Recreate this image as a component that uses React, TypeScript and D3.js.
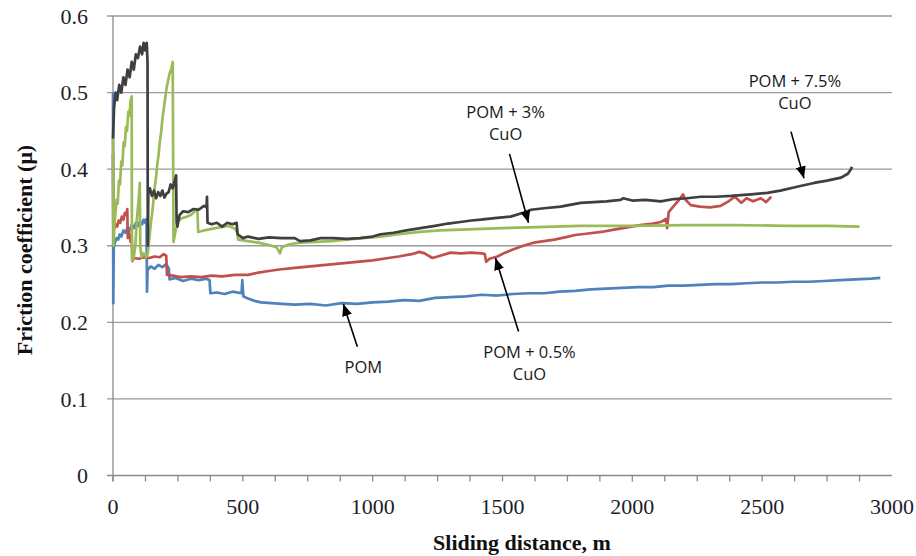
import React from "react";
import * as d3 from "d3";

const W = 916;
const H = 556;

// axis ticks
const yTicks = [0, 0.1, 0.2, 0.3, 0.4, 0.5, 0.6];
const xLabels = [0, 500, 1000, 1500, 2000, 2500, 3000];
const xMinorTicks = d3.range(0, 2876, 125);

// series, [sliding distance m, friction coefficient]
const pom: [number, number][] = [
  [0, 0.5], [1, 0.225], [3, 0.298], [8, 0.305], [14, 0.31], [20, 0.308], [26, 0.315], [32, 0.312],
  [40, 0.32], [48, 0.317], [56, 0.324], [64, 0.32], [72, 0.327], [80, 0.323], [88, 0.33], [96, 0.326],
  [104, 0.332], [112, 0.328], [118, 0.334], [124, 0.33], [129, 0.335], [131, 0.24], [133, 0.268],
  [145, 0.273], [160, 0.27], [175, 0.275], [190, 0.272], [205, 0.276], [215, 0.27], [218, 0.256],
  [240, 0.258], [270, 0.254], [300, 0.257], [330, 0.255], [360, 0.257], [372, 0.255], [375, 0.238],
  [400, 0.239], [430, 0.237], [460, 0.24], [495, 0.238], [498, 0.255], [502, 0.234], [520, 0.231],
  [545, 0.228], [570, 0.226], [610, 0.225], [650, 0.224], [700, 0.223], [760, 0.224], [820, 0.222],
  [880, 0.225], [940, 0.224], [1000, 0.226], [1060, 0.227], [1120, 0.229], [1180, 0.228], [1240, 0.232],
  [1300, 0.233], [1360, 0.234], [1420, 0.236], [1480, 0.235], [1540, 0.237], [1600, 0.238], [1660, 0.238],
  [1720, 0.24], [1780, 0.241], [1840, 0.243], [1900, 0.244], [1960, 0.245], [2020, 0.246], [2080, 0.246],
  [2140, 0.248], [2200, 0.248], [2260, 0.249], [2320, 0.25], [2380, 0.25], [2440, 0.251], [2500, 0.252],
  [2560, 0.252], [2620, 0.253], [2680, 0.253], [2740, 0.254], [2800, 0.255], [2860, 0.256], [2920, 0.257],
  [2955, 0.258],
];

const pom05: [number, number][] = [
  [0, 0.42], [1, 0.33], [4, 0.322], [10, 0.328], [16, 0.325], [22, 0.333], [28, 0.33], [34, 0.338],
  [40, 0.334], [46, 0.343], [52, 0.34], [55, 0.348], [57, 0.31], [62, 0.318], [68, 0.305], [72, 0.312],
  [75, 0.28], [80, 0.284], [100, 0.283], [120, 0.285], [140, 0.284], [160, 0.286], [180, 0.285],
  [195, 0.289], [205, 0.287], [208, 0.262], [230, 0.261], [260, 0.259], [300, 0.26], [340, 0.259],
  [380, 0.261], [420, 0.26], [470, 0.262], [520, 0.262], [560, 0.265], [600, 0.267], [640, 0.269],
  [700, 0.271], [760, 0.273], [820, 0.275], [880, 0.277], [940, 0.279], [1000, 0.281], [1060, 0.284],
  [1100, 0.286], [1150, 0.289], [1180, 0.292], [1200, 0.29], [1230, 0.284], [1260, 0.287], [1300, 0.291],
  [1340, 0.29], [1380, 0.291], [1420, 0.29], [1432, 0.289], [1437, 0.279], [1450, 0.283], [1480, 0.286],
  [1510, 0.291], [1540, 0.295], [1580, 0.3], [1620, 0.304], [1660, 0.306], [1700, 0.308], [1740, 0.311],
  [1780, 0.314], [1830, 0.316], [1880, 0.318], [1930, 0.321], [1980, 0.324], [2030, 0.327], [2080, 0.329],
  [2110, 0.331], [2130, 0.335], [2134, 0.323], [2140, 0.344], [2160, 0.352], [2180, 0.36], [2195, 0.367],
  [2205, 0.36], [2225, 0.353], [2260, 0.351], [2300, 0.35], [2340, 0.352], [2370, 0.358], [2395, 0.364],
  [2420, 0.356], [2440, 0.362], [2465, 0.358], [2495, 0.362], [2515, 0.357], [2535, 0.364],
];

const pom3: [number, number][] = [
  [0, 0.44], [2, 0.3], [6, 0.33], [10, 0.345], [14, 0.36], [18, 0.355], [23, 0.385], [27, 0.38],
  [32, 0.41], [36, 0.405], [41, 0.435], [45, 0.43], [50, 0.455], [54, 0.45], [59, 0.475], [63, 0.47],
  [68, 0.49], [72, 0.495], [73, 0.28], [80, 0.285], [86, 0.3], [92, 0.335], [96, 0.35], [100, 0.365],
  [103, 0.382], [105, 0.3], [110, 0.285], [118, 0.29], [128, 0.285], [134, 0.29], [140, 0.31],
  [146, 0.33], [150, 0.34], [156, 0.36], [160, 0.375], [166, 0.39], [170, 0.405], [176, 0.42],
  [180, 0.435], [186, 0.45], [190, 0.465], [196, 0.48], [200, 0.49], [206, 0.505], [212, 0.515],
  [218, 0.525], [224, 0.53], [230, 0.54], [233, 0.305], [240, 0.318], [250, 0.332], [265, 0.336],
  [285, 0.338], [300, 0.34], [315, 0.345], [325, 0.348], [328, 0.318], [350, 0.32], [380, 0.322],
  [410, 0.324], [445, 0.326], [470, 0.322], [478, 0.318], [482, 0.308], [520, 0.306], [560, 0.304],
  [600, 0.301], [630, 0.298], [643, 0.29], [650, 0.298], [680, 0.302], [720, 0.304], [780, 0.305],
  [840, 0.306], [900, 0.308], [960, 0.31], [1030, 0.312], [1100, 0.315], [1180, 0.318], [1260, 0.32],
  [1340, 0.321], [1420, 0.322], [1500, 0.323], [1600, 0.324], [1700, 0.325], [1800, 0.326], [2000, 0.326],
  [2200, 0.327], [2400, 0.327], [2600, 0.326], [2750, 0.326], [2875, 0.325],
];

const pom75: [number, number][] = [
  [0, 0.44], [4, 0.48], [10, 0.5], [16, 0.49], [24, 0.51], [32, 0.5], [40, 0.52], [48, 0.51],
  [56, 0.53], [64, 0.52], [72, 0.54], [80, 0.53], [88, 0.55], [96, 0.545], [104, 0.56], [112, 0.55],
  [118, 0.565], [124, 0.555], [130, 0.565], [133, 0.54], [134, 0.3], [136, 0.37], [142, 0.375],
  [150, 0.365], [158, 0.372], [166, 0.362], [174, 0.37], [182, 0.365], [190, 0.372], [198, 0.363],
  [206, 0.368], [214, 0.37], [222, 0.38], [230, 0.375], [238, 0.385], [243, 0.392], [245, 0.33],
  [248, 0.325], [256, 0.34], [270, 0.345], [290, 0.344], [310, 0.348], [330, 0.347], [350, 0.352],
  [360, 0.35], [362, 0.364], [364, 0.33], [380, 0.328], [400, 0.33], [420, 0.325], [440, 0.33],
  [460, 0.328], [476, 0.33], [480, 0.315], [500, 0.31], [520, 0.312], [560, 0.309], [600, 0.311],
  [650, 0.31], [700, 0.31], [720, 0.306], [760, 0.307], [800, 0.31], [850, 0.31], [900, 0.309],
  [950, 0.31], [1000, 0.312], [1030, 0.315], [1080, 0.317], [1130, 0.32], [1184, 0.323], [1240, 0.326],
  [1290, 0.329], [1338, 0.331], [1380, 0.333], [1416, 0.334], [1470, 0.336], [1531, 0.338], [1580, 0.343],
  [1610, 0.347], [1660, 0.349], [1724, 0.351], [1770, 0.354], [1801, 0.356], [1850, 0.357], [1900, 0.358],
  [1955, 0.36], [1965, 0.362], [2000, 0.359], [2050, 0.36], [2110, 0.358], [2160, 0.361], [2210, 0.362],
  [2264, 0.364], [2320, 0.364], [2380, 0.365], [2457, 0.367], [2520, 0.369], [2570, 0.372], [2622, 0.376],
  [2660, 0.379], [2700, 0.382], [2750, 0.385], [2804, 0.389], [2830, 0.394], [2842, 0.4], [2846, 0.403],
];

const seriesData = [pom, pom05, pom3, pom75];
const seriesColors = ["#4F81BD", "#C0504D", "#9BBB59", "#3F3F3F"];

// annotation labels (centre of first line) and arrows (tail -> head), in data units
const noteLines = [["POM"], ["POM + 0.5%", "CuO"], ["POM + 3%", "CuO"], ["POM + 7.5%", "CuO"]];
const noteAt: [number, number][] = [[964, 0.142], [1604, 0.161], [1512, 0.474], [2626, 0.515]];
const arrowFrom: [number, number][] = [[941, 0.168], [1562, 0.188], [1527, 0.42], [2611, 0.449]];
const arrowTo: [number, number][] = [[887, 0.224], [1473, 0.284], [1600, 0.33], [2661, 0.388]];

export default function App() {
  const x = d3.scaleLinear().domain([0, 3000]).range([113, 892]);
  const y = d3.scaleLinear().domain([0, 0.6]).range([475.5, 16]);
  const line = d3
    .line<[number, number]>()
    .x((d) => x(d[0]))
    .y((d) => y(d[1]));

  const xEnd = 892;
  const serif = "'Liberation Serif', 'Times New Roman', serif";
  const sans = "'Open Sans', 'Noto Sans', sans-serif";

  return (
    <svg
      width={W}
      height={H}
      style={{ position: "absolute", left: 0, top: 0, background: "#fff" }}
    >
      <defs>
        <marker
          id="arrowhead"
          markerUnits="userSpaceOnUse"
          markerWidth="12"
          markerHeight="10"
          refX="12"
          refY="5"
          orient="auto"
        >
          <path d="M0,0 L12,5 L0,10 z" fill="#000" />
        </marker>
      </defs>

      {/* gridlines */}
      {yTicks.slice(1).map((t) => (
        <line key={"g" + t} x1={107} x2={xEnd} y1={y(t)} y2={y(t)} stroke="#9a9a9a" strokeWidth={1.3} />
      ))}

      {/* axes */}
      <line x1={113} x2={113} y1={y(0.6)} y2={y(0) + 6} stroke="#8a8a8a" strokeWidth={1.3} />
      <line x1={107} x2={xEnd} y1={y(0)} y2={y(0)} stroke="#8a8a8a" strokeWidth={1.3} />
      {xMinorTicks.map((t) => (
        <line key={"t" + t} x1={x(t)} x2={x(t)} y1={y(0)} y2={y(0) + 6} stroke="#8a8a8a" strokeWidth={1.3} />
      ))}

      {yTicks.map((t) => (
        <text
          key={"yl" + t}
          x={88}
          y={y(t)}
          dy="0.35em"
          textAnchor="end"
          fontFamily={serif}
          fontSize={22}
          fill="#1e1e2a"
        >
          {t === 0 ? "0" : t.toFixed(1)}
        </text>
      ))}
      {xLabels.map((t) => (
        <text
          key={"xl" + t}
          x={x(t)}
          y={514}
          textAnchor="middle"
          fontFamily={serif}
          fontSize={22}
          fill="#1e1e2a"
        >
          {t}
        </text>
      ))}

      <text
        x={522}
        y={550}
        textAnchor="middle"
        fontFamily={serif}
        fontSize={22}
        fontWeight="bold"
        fill="#111"
      >
        Sliding distance, m
      </text>
      <text
        transform="translate(32, 250) rotate(-90)"
        textAnchor="middle"
        fontFamily={serif}
        fontSize={22}
        fontWeight="bold"
        fill="#111"
      >
        Friction coefficient (μ)
      </text>

      {/* series */}
      {seriesData.map((s, i) => (
        <path
          key={"s" + i}
          d={line(s) || ""}
          fill="none"
          stroke={seriesColors[i]}
          strokeWidth={2.7}
          strokeLinejoin="round"
        />
      ))}

      {/* annotations */}
      {noteLines.map((lines, i) => (
        <g key={"n" + i}>
          <line
            x1={x(arrowFrom[i][0])}
            y1={y(arrowFrom[i][1])}
            x2={x(arrowTo[i][0])}
            y2={y(arrowTo[i][1])}
            stroke="#000"
            strokeWidth={1.6}
            markerEnd="url(#arrowhead)"
          />
          {lines.map((l, j) => (
            <text
              key={j}
              x={x(noteAt[i][0])}
              y={y(noteAt[i][1]) + j * 22}
              dy="0.35em"
              textAnchor="middle"
              fontFamily={sans}
              fontSize={16.5}
              fill="#1a1a1a"
            >
              {l}
            </text>
          ))}
        </g>
      ))}
    </svg>
  );
}
